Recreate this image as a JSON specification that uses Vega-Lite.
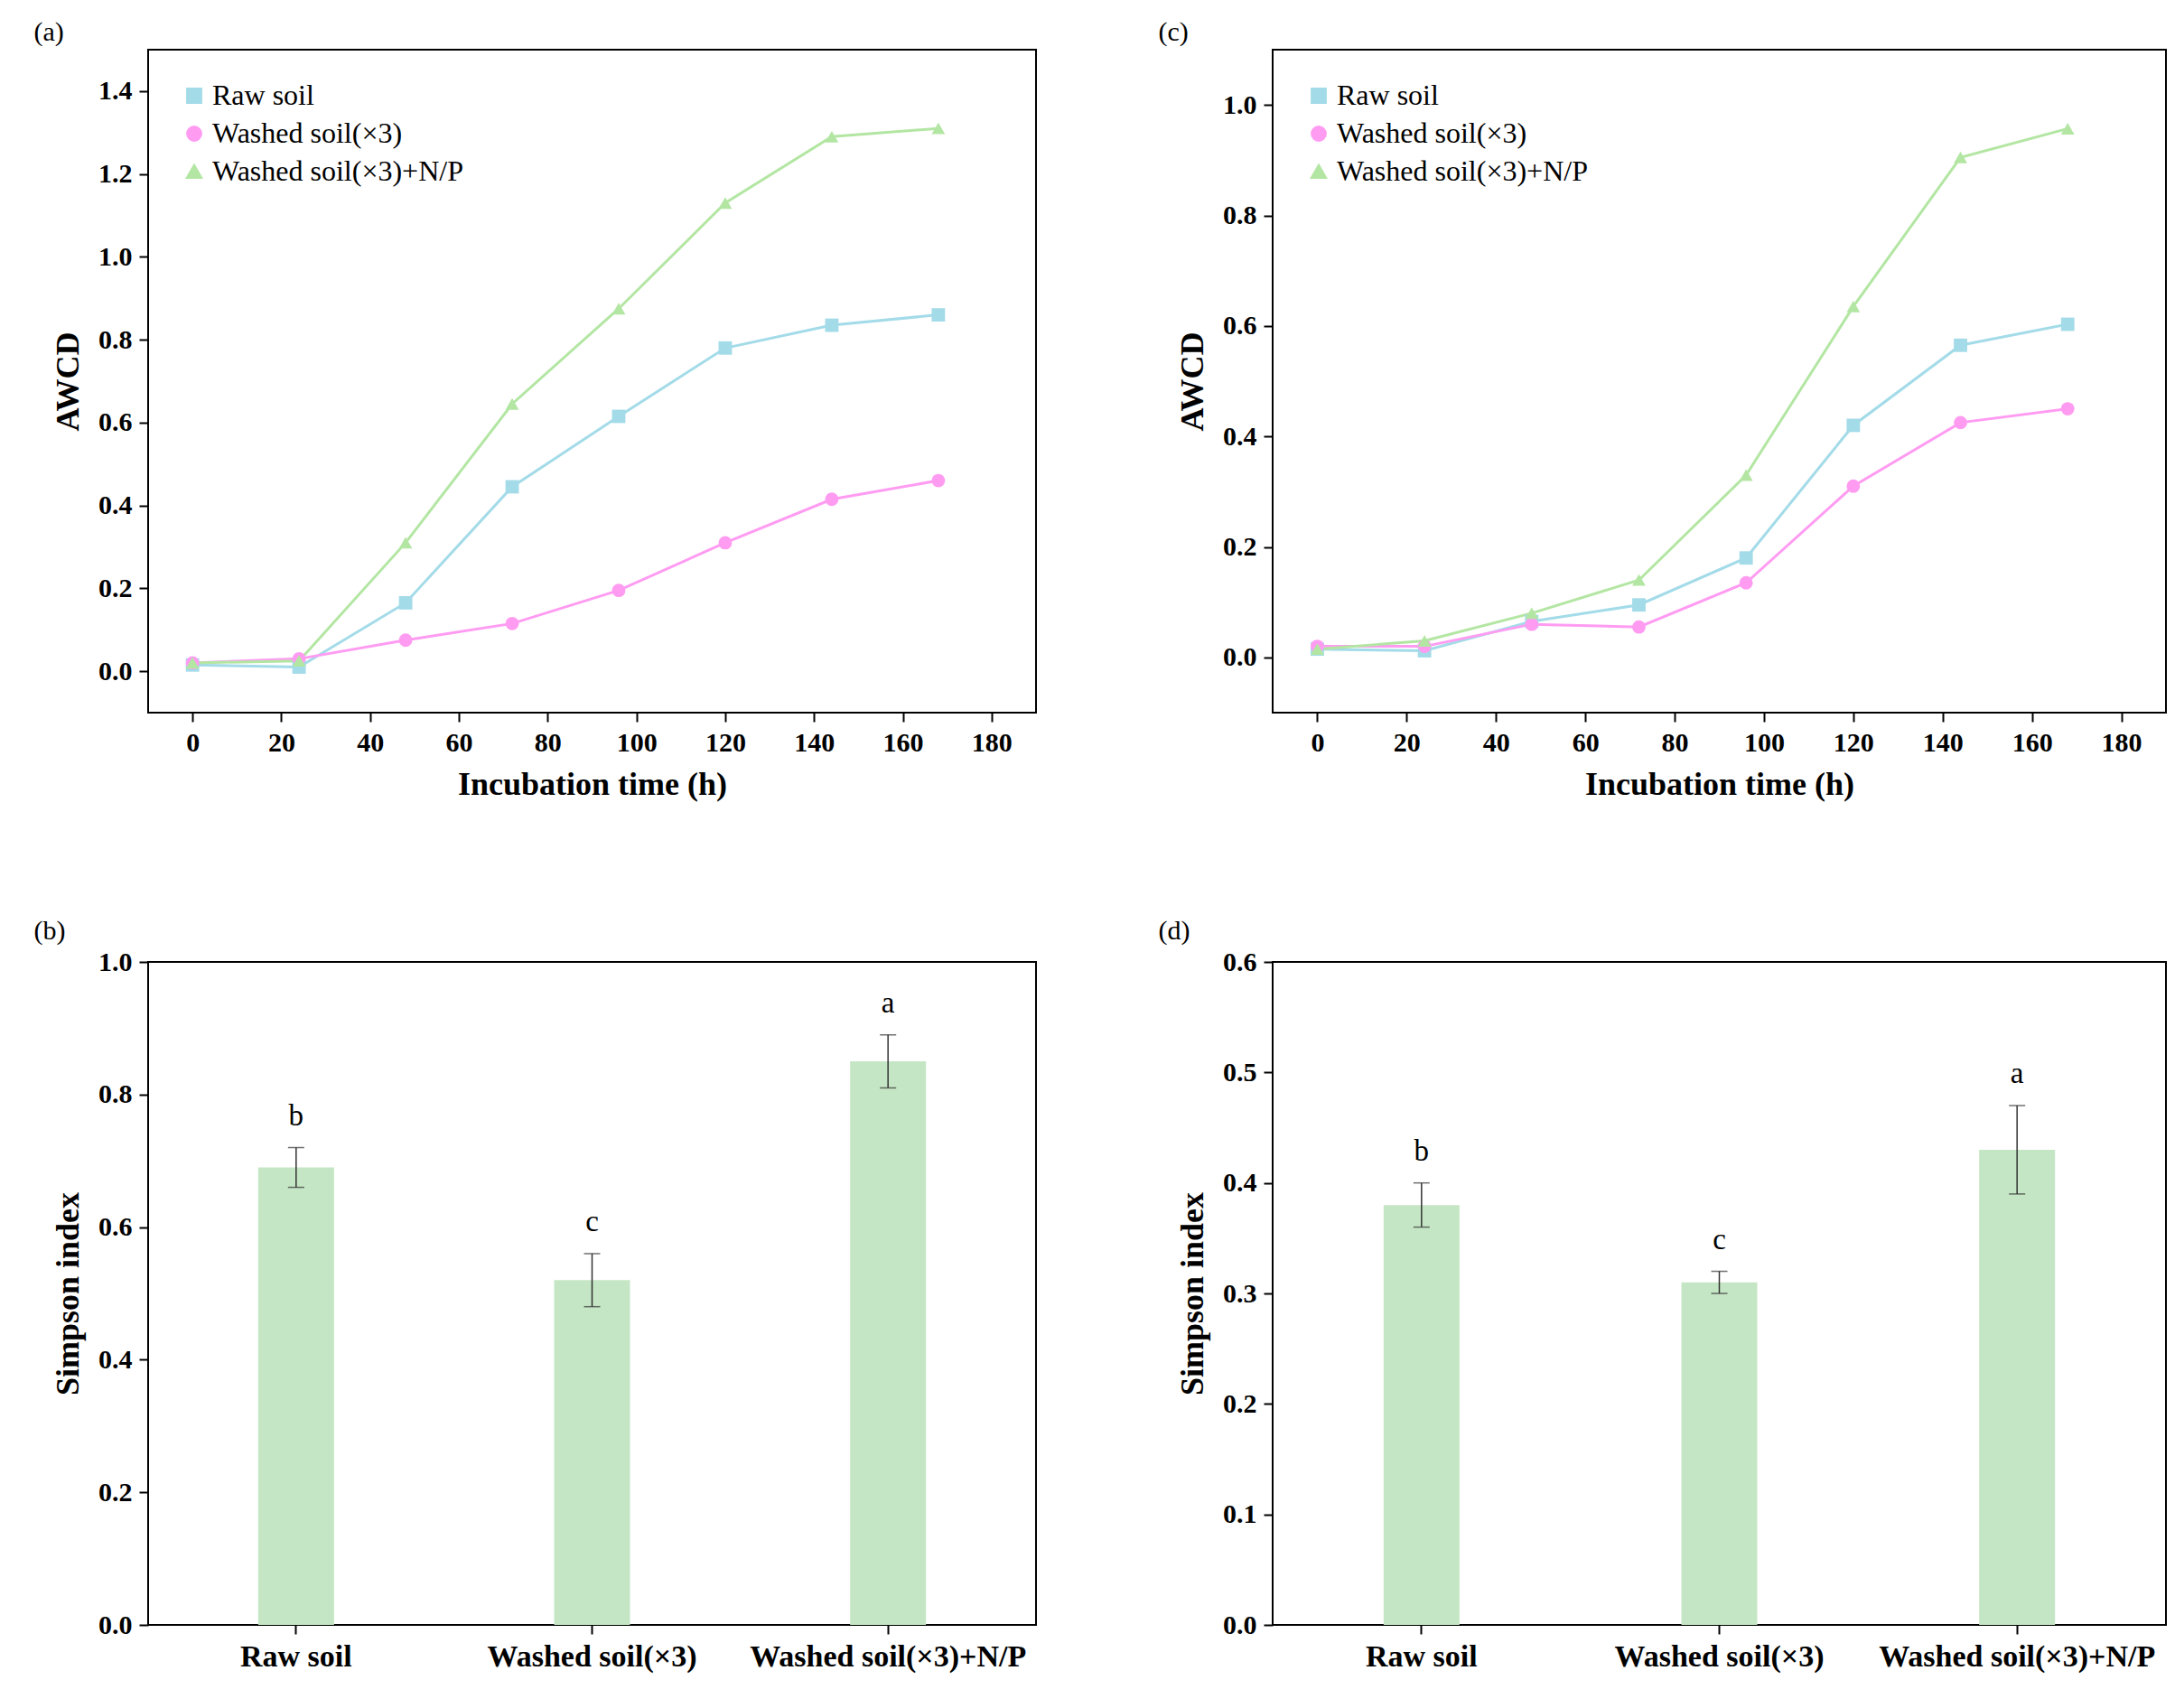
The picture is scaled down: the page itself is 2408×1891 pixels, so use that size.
{
  "$schema": "https://vega.github.io/schema/vega-lite/v6.json",
  "background": "white",
  "padding": {"left": 36, "top": 20, "right": 5, "bottom": 5},
  "datasets": {
    "lines": [
      {"panel": "a", "group": "Raw soil", "t": 0, "awcd": 0.015},
      {"panel": "a", "group": "Raw soil", "t": 24, "awcd": 0.01},
      {"panel": "a", "group": "Raw soil", "t": 48, "awcd": 0.165},
      {"panel": "a", "group": "Raw soil", "t": 72, "awcd": 0.445},
      {"panel": "a", "group": "Raw soil", "t": 96, "awcd": 0.615},
      {"panel": "a", "group": "Raw soil", "t": 120, "awcd": 0.78},
      {"panel": "a", "group": "Raw soil", "t": 144, "awcd": 0.835},
      {"panel": "a", "group": "Raw soil", "t": 168, "awcd": 0.86},
      {"panel": "a", "group": "Washed soil(×3)", "t": 0, "awcd": 0.02},
      {"panel": "a", "group": "Washed soil(×3)", "t": 24, "awcd": 0.03},
      {"panel": "a", "group": "Washed soil(×3)", "t": 48, "awcd": 0.075},
      {"panel": "a", "group": "Washed soil(×3)", "t": 72, "awcd": 0.115},
      {"panel": "a", "group": "Washed soil(×3)", "t": 96, "awcd": 0.195},
      {"panel": "a", "group": "Washed soil(×3)", "t": 120, "awcd": 0.31},
      {"panel": "a", "group": "Washed soil(×3)", "t": 144, "awcd": 0.415},
      {"panel": "a", "group": "Washed soil(×3)", "t": 168, "awcd": 0.46},
      {"panel": "a", "group": "Washed soil(×3)+N/P", "t": 0, "awcd": 0.02},
      {"panel": "a", "group": "Washed soil(×3)+N/P", "t": 24, "awcd": 0.025},
      {"panel": "a", "group": "Washed soil(×3)+N/P", "t": 48, "awcd": 0.31},
      {"panel": "a", "group": "Washed soil(×3)+N/P", "t": 72, "awcd": 0.645},
      {"panel": "a", "group": "Washed soil(×3)+N/P", "t": 96, "awcd": 0.875},
      {"panel": "a", "group": "Washed soil(×3)+N/P", "t": 120, "awcd": 1.13},
      {"panel": "a", "group": "Washed soil(×3)+N/P", "t": 144, "awcd": 1.29},
      {"panel": "a", "group": "Washed soil(×3)+N/P", "t": 168, "awcd": 1.31},
      {"panel": "c", "group": "Raw soil", "t": 0, "awcd": 0.015},
      {"panel": "c", "group": "Raw soil", "t": 24, "awcd": 0.012},
      {"panel": "c", "group": "Raw soil", "t": 48, "awcd": 0.065},
      {"panel": "c", "group": "Raw soil", "t": 72, "awcd": 0.095},
      {"panel": "c", "group": "Raw soil", "t": 96, "awcd": 0.18},
      {"panel": "c", "group": "Raw soil", "t": 120, "awcd": 0.42},
      {"panel": "c", "group": "Raw soil", "t": 144, "awcd": 0.565},
      {"panel": "c", "group": "Raw soil", "t": 168, "awcd": 0.603},
      {"panel": "c", "group": "Washed soil(×3)", "t": 0, "awcd": 0.02},
      {"panel": "c", "group": "Washed soil(×3)", "t": 24, "awcd": 0.02},
      {"panel": "c", "group": "Washed soil(×3)", "t": 48, "awcd": 0.06},
      {"panel": "c", "group": "Washed soil(×3)", "t": 72, "awcd": 0.055},
      {"panel": "c", "group": "Washed soil(×3)", "t": 96, "awcd": 0.135},
      {"panel": "c", "group": "Washed soil(×3)", "t": 120, "awcd": 0.31},
      {"panel": "c", "group": "Washed soil(×3)", "t": 144, "awcd": 0.425},
      {"panel": "c", "group": "Washed soil(×3)", "t": 168, "awcd": 0.45},
      {"panel": "c", "group": "Washed soil(×3)+N/P", "t": 0, "awcd": 0.015},
      {"panel": "c", "group": "Washed soil(×3)+N/P", "t": 24, "awcd": 0.03},
      {"panel": "c", "group": "Washed soil(×3)+N/P", "t": 48, "awcd": 0.08},
      {"panel": "c", "group": "Washed soil(×3)+N/P", "t": 72, "awcd": 0.14},
      {"panel": "c", "group": "Washed soil(×3)+N/P", "t": 96, "awcd": 0.33},
      {"panel": "c", "group": "Washed soil(×3)+N/P", "t": 120, "awcd": 0.635},
      {"panel": "c", "group": "Washed soil(×3)+N/P", "t": 144, "awcd": 0.905},
      {"panel": "c", "group": "Washed soil(×3)+N/P", "t": 168, "awcd": 0.957}
    ],
    "bars": [
      {"panel": "b", "group": "Raw soil", "mean": 0.69, "lo": 0.66, "hi": 0.72, "letter": "b"},
      {"panel": "b", "group": "Washed soil(×3)", "mean": 0.52, "lo": 0.48, "hi": 0.56, "letter": "c"},
      {"panel": "b", "group": "Washed soil(×3)+N/P", "mean": 0.85, "lo": 0.81, "hi": 0.89, "letter": "a"},
      {"panel": "d", "group": "Raw soil", "mean": 0.38, "lo": 0.36, "hi": 0.40, "letter": "b"},
      {"panel": "d", "group": "Washed soil(×3)", "mean": 0.31, "lo": 0.30, "hi": 0.32, "letter": "c"},
      {"panel": "d", "group": "Washed soil(×3)+N/P", "mean": 0.43, "lo": 0.39, "hi": 0.47, "letter": "a"}
    ]
  },
  "vconcat": [
    {
      "hconcat": [
        {
          "title": {"text": "(a)"},
          "width": 983, "height": 734,
          "data": {"name": "lines"},
          "transform": [{"filter": "datum.panel === 'a'"}],
          "encoding": {
            "x": {"field": "t", "type": "quantitative", "scale": {"domain": [-10, 190], "nice": false}, "axis": {"values": [0, 20, 40, 60, 80, 100, 120, 140, 160, 180], "title": "Incubation time (h)"}},
            "y": {"field": "awcd", "type": "quantitative", "scale": {"domain": [-0.1, 1.5], "nice": false}, "axis": {"values": [0, 0.2, 0.4, 0.6, 0.8, 1.0, 1.2, 1.4], "format": ".1f", "title": "AWCD"}},
            "color": {"field": "group", "type": "nominal", "scale": {"domain": ["Raw soil", "Washed soil(×3)", "Washed soil(×3)+N/P"], "range": ["#a3dbe8", "#ff9cf2", "#b3e6a3"]}, "legend": {"title": null, "orient": "top-left"}},
            "shape": {"field": "group", "type": "nominal", "scale": {"domain": ["Raw soil", "Washed soil(×3)", "Washed soil(×3)+N/P"], "range": ["square", "circle", "triangle-up"]}, "legend": {"title": null, "orient": "top-left"}}
          },
          "layer": [
            {"mark": {"type": "line", "strokeWidth": 3}},
            {"mark": {"type": "point", "filled": true, "opacity": 1, "size": 220}}
          ]
        },
        {
          "title": {"text": "(c)"},
          "width": 989, "height": 734,
          "data": {"name": "lines"},
          "transform": [{"filter": "datum.panel === 'c'"}],
          "encoding": {
            "x": {"field": "t", "type": "quantitative", "scale": {"domain": [-10, 190], "nice": false}, "axis": {"values": [0, 20, 40, 60, 80, 100, 120, 140, 160, 180], "title": "Incubation time (h)"}},
            "y": {"field": "awcd", "type": "quantitative", "scale": {"domain": [-0.1, 1.1], "nice": false}, "axis": {"values": [0, 0.2, 0.4, 0.6, 0.8, 1.0], "format": ".1f", "title": "AWCD"}},
            "color": {"field": "group", "type": "nominal", "scale": {"domain": ["Raw soil", "Washed soil(×3)", "Washed soil(×3)+N/P"], "range": ["#a3dbe8", "#ff9cf2", "#b3e6a3"]}, "legend": {"title": null, "orient": "top-left"}},
            "shape": {"field": "group", "type": "nominal", "scale": {"domain": ["Raw soil", "Washed soil(×3)", "Washed soil(×3)+N/P"], "range": ["square", "circle", "triangle-up"]}, "legend": {"title": null, "orient": "top-left"}}
          },
          "layer": [
            {"mark": {"type": "line", "strokeWidth": 3}},
            {"mark": {"type": "point", "filled": true, "opacity": 1, "size": 220}}
          ]
        }
      ],
      "resolve": {"scale": {"color": "independent", "shape": "independent"}},
      "spacing": 133
    },
    {
      "hconcat": [
        {
          "title": {"text": "(b)"},
          "width": 983, "height": 734,
          "data": {"name": "bars"},
          "transform": [{"filter": "datum.panel === 'b'"}],
          "encoding": {
            "x": {"field": "group", "type": "nominal", "sort": null, "axis": {"title": null, "labelAngle": 0, "labelFontWeight": "bold", "labelFontSize": 34}},
            "y": {"type": "quantitative", "scale": {"domain": [0, 1.0], "nice": false}}
          },
          "layer": [
            {"mark": {"type": "bar", "size": 84, "color": "#c5e6c5"}, "encoding": {"y": {"field": "mean", "type": "quantitative", "scale": {"domain": [0, 1.0], "nice": false}, "axis": {"values": [0, 0.2, 0.4, 0.6, 0.8, 1.0], "format": ".1f", "title": "Simpson index"}}}},
            {"mark": {"type": "rule", "color": "#333333", "strokeWidth": 1.5}, "encoding": {"y": {"field": "lo", "type": "quantitative"}, "y2": {"field": "hi"}}},
            {"mark": {"type": "tick", "color": "#333333", "orient": "horizontal", "size": 18, "thickness": 1.5}, "encoding": {"y": {"field": "lo", "type": "quantitative"}}},
            {"mark": {"type": "tick", "color": "#333333", "orient": "horizontal", "size": 18, "thickness": 1.5}, "encoding": {"y": {"field": "hi", "type": "quantitative"}}},
            {"mark": {"type": "text", "baseline": "bottom", "dy": -18, "fontSize": 33, "font": "Liberation Serif"}, "encoding": {"y": {"field": "hi", "type": "quantitative"}, "text": {"field": "letter"}}}
          ]
        },
        {
          "title": {"text": "(d)"},
          "width": 989, "height": 734,
          "data": {"name": "bars"},
          "transform": [{"filter": "datum.panel === 'd'"}],
          "encoding": {
            "x": {"field": "group", "type": "nominal", "sort": null, "axis": {"title": null, "labelAngle": 0, "labelFontWeight": "bold", "labelFontSize": 34}},
            "y": {"type": "quantitative", "scale": {"domain": [0, 0.6], "nice": false}}
          },
          "layer": [
            {"mark": {"type": "bar", "size": 84, "color": "#c5e6c5"}, "encoding": {"y": {"field": "mean", "type": "quantitative", "scale": {"domain": [0, 0.6], "nice": false}, "axis": {"values": [0, 0.1, 0.2, 0.3, 0.4, 0.5, 0.6], "format": ".1f", "title": "Simpson index"}}}},
            {"mark": {"type": "rule", "color": "#333333", "strokeWidth": 1.5}, "encoding": {"y": {"field": "lo", "type": "quantitative"}, "y2": {"field": "hi"}}},
            {"mark": {"type": "tick", "color": "#333333", "orient": "horizontal", "size": 18, "thickness": 1.5}, "encoding": {"y": {"field": "lo", "type": "quantitative"}}},
            {"mark": {"type": "tick", "color": "#333333", "orient": "horizontal", "size": 18, "thickness": 1.5}, "encoding": {"y": {"field": "hi", "type": "quantitative"}}},
            {"mark": {"type": "text", "baseline": "bottom", "dy": -18, "fontSize": 33, "font": "Liberation Serif"}, "encoding": {"y": {"field": "hi", "type": "quantitative"}, "text": {"field": "letter"}}}
          ]
        }
      ],
      "spacing": 133
    }
  ],
  "spacing": 128,
  "config": {
    "font": "Liberation Serif",
    "view": {"stroke": "black", "strokeWidth": 2},
    "title": {"anchor": "start", "fontSize": 30, "fontWeight": "normal", "dx": -20, "offset": 4},
    "axis": {"grid": false, "domain": false, "labelLimit": 0, "tickColor": "black", "tickWidth": 2, "tickSize": 10, "labelFontSize": 30, "labelFontWeight": "bold", "labelColor": "black", "labelPadding": 8, "titleFontSize": 36, "titleFontWeight": "bold", "titleColor": "black", "titlePadding": 14},
    "legend": {"labelFontSize": 32, "labelLimit": 0, "labelColor": "black", "symbolSize": 220, "symbolStrokeWidth": 3, "rowPadding": 10, "offset": 35, "padding": 0}
  }
}
